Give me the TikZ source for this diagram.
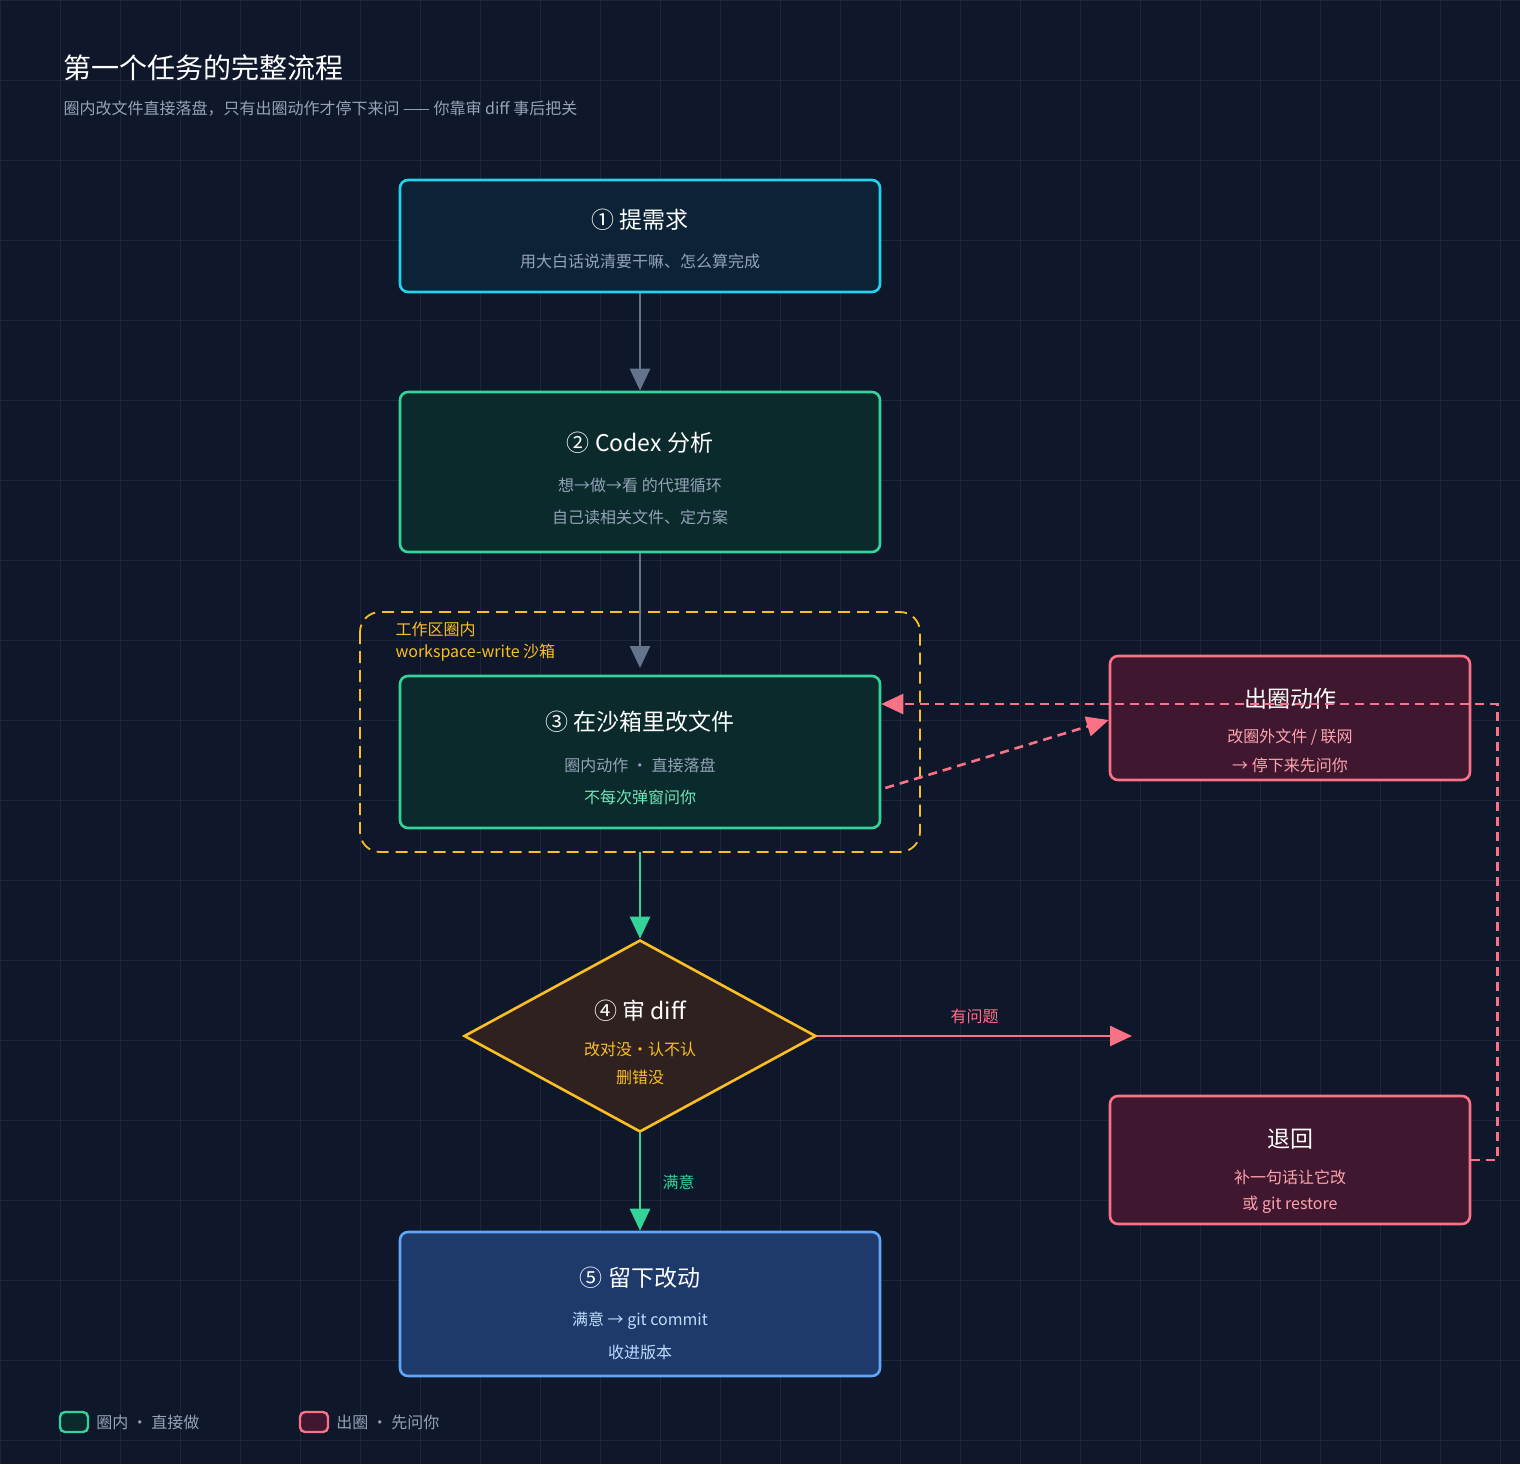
\documentclass[tikz,border=0pt]{standalone}
\usepackage{fontspec}
\setmainfont{Noto Sans CJK SC}
\usetikzlibrary{arrows.meta,positioning,shapes.geometric}
\definecolor{bg}{HTML}{0F172A}
\definecolor{gridc}{HTML}{1C2638}
\definecolor{cyanb}{HTML}{22D3EE}
\definecolor{cyanf}{HTML}{0C2236}
\definecolor{greenb}{HTML}{34D399}
\definecolor{greenf}{HTML}{0B2A2C}
\definecolor{greent}{HTML}{6EE7B7}
\definecolor{yelb}{HTML}{FBBF24}
\definecolor{yelf}{HTML}{2F211F}
\definecolor{blueb}{HTML}{60A5FA}
\definecolor{bluef}{HTML}{1E3A6A}
\definecolor{blutx}{HTML}{BFDBFE}
\definecolor{redb}{HTML}{FB7185}
\definecolor{redf}{HTML}{3F172F}
\definecolor{redt}{HTML}{FDA4AF}
\definecolor{greyl}{HTML}{64748B}
\definecolor{subt}{HTML}{94A3B8}
\tikzset{
  box/.style={draw, rounded corners=8pt, line width=2.6pt, minimum width=480pt, inner sep=0pt},
  alertbox/.style={box, draw=redb, fill=redf, minimum width=360pt},
  ttl/.style={text=white, font=\fontsize{23}{23}\selectfont},
  sub/.style={font=\fontsize{16}{16}\selectfont},
  tip/.style={-{Triangle[length=22pt,width=20pt]}},
  link/.style={line width=2.6pt},
}
\begin{document}
\begin{tikzpicture}[x=1pt,y=-1pt]
        \fill[bg] (0,0) rectangle (1520,1464);
        \useasboundingbox (0,0) rectangle (1520,1464);
        \foreach \gx in {0,60,...,1520} \draw[gridc, line width=0.8pt] (\gx,0) -- (\gx,1464);
        \foreach \gy in {0,80,...,1464} \draw[gridc, line width=0.8pt] (0,\gy) -- (1520,\gy);

        % heading
        \node[anchor=west, text=white, font=\fontsize{28}{28}\selectfont] (title) at (60,68) {第一个任务的完整流程};
        \node[anchor=west, text=subt, sub] (subtitle) at (60,109) {圈内改文件直接落盘，只有出圈动作才停下来问 —— 你靠审 diff 事后把关};

        % sandbox frame
        \draw[yelb, line width=1.8pt, dash pattern=on 12pt off 7pt, rounded corners=20pt] (360,612) rectangle (920,852);
        \node[anchor=west, text=yelb, sub] (zone) at (392,629) {工作区圈内};
        \node[anchor=west, text=yelb, sub] (zonesub) at (392,653) {workspace-write 沙箱};

        % main column
        \node[box, draw=cyanb, fill=cyanf, minimum height=112pt] (ask) at (640,236) {};
        \node[ttl] at (640,220) {① 提需求};
        \node[sub, text=subt] at (640,261) {用大白话说清要干嘛、怎么算完成};

        \node[box, draw=greenb, fill=greenf, minimum height=160pt] (plan) at (640,472) {};
        \node[ttl] at (640,443) {② Codex 分析};
        \node[sub, text=subt] at (640,485) {想→做→看 的代理循环};
        \node[sub, text=subt] at (640,517) {自己读相关文件、定方案};

        \node[box, draw=greenb, fill=greenf, minimum height=152pt] (edit) at (640,752) {};
        \node[ttl] at (640,722) {③ 在沙箱里改文件};
        \node[sub, text=subt] at (640,765) {圈内动作 · 直接落盘};
        \node[sub, text=greent] at (640,797) {不每次弹窗问你};

        \node[diamond, draw=yelb, fill=yelf, line width=2.6pt, minimum width=352pt, minimum height=192pt, aspect=1.83, inner sep=0pt] (review) at (640,1036) {};
        \node[ttl] at (640,1011) {④ 审 diff};
        \node[sub, text=yelb] at (640,1049) {改对没·认不认};
        \node[sub, text=yelb] at (640,1077) {删错没};

        \node[box, draw=blueb, fill=bluef, minimum height=144pt] (keep) at (640,1304) {};
        \node[ttl] at (640,1278) {⑤ 留下改动};
        \node[sub, text=blutx] at (640,1321) {满意 → git commit};
        \node[sub, text=blutx] at (640,1352) {收进版本};

        % right column
        \node[alertbox, minimum height=124pt] (outside) at (1290,718) {};
        \node[ttl] at (1290,699) {出圈动作};
        \node[sub, text=redt] at (1290,737) {改圈外文件 / 联网};
        \node[sub, text=redt] at (1290,765) {→ 停下来先问你};

        \node[alertbox, minimum height=128pt] (revert) at (1290,1160) {};
        \node[ttl] at (1290,1139) {退回};
        \node[sub, text=redt] at (1290,1177) {补一句话让它改};
        \node[sub, text=redt] at (1290,1205) {或 git restore};

        % connectors
        \coordinate (editin) at (640,668);
        \coordinate (frameout) at (640,852);
        \coordinate (problem) at (1132,1036);
        \draw[link, tip, greyl] (ask) -- (plan);
        \draw[link, tip, greyl] (plan) -- (editin);
        \draw[link, tip, greenb] (frameout) -- (review.north);
        \draw[link, tip, greenb] (review.south) -- node[right=18pt, sub, text=greenb] {满意} (keep);
        \draw[link, tip, redb] (review.east) -- node[above=8pt, sub, text=redb] {有问题} (problem);
        \draw[link, tip, redb, dash pattern=on 9pt off 6pt] ([xshift=4pt,yshift=-36pt]edit.east) -- ([yshift=-2pt]outside.west);
        \draw[link, tip, redb, dash pattern=on 9pt off 6pt] (revert.east) -- ++(26,0) |- ([yshift=48pt]edit.east);

        % legend
        \node[draw=greenb, fill=greenf, line width=2.4pt, rounded corners=5pt, minimum width=28pt, minimum height=20pt, inner sep=0pt] (keyin) at (74,1422) {};
        \node[anchor=west, sub, text=subt] at (keyin.east) {~圈内 · 直接做};
        \node[draw=redb, fill=redf, line width=2.4pt, rounded corners=5pt, minimum width=28pt, minimum height=20pt, inner sep=0pt] (keyout) at (314,1422) {};
        \node[anchor=west, sub, text=subt] at (keyout.east) {~出圈 · 先问你};
\end{tikzpicture}
\end{document}
